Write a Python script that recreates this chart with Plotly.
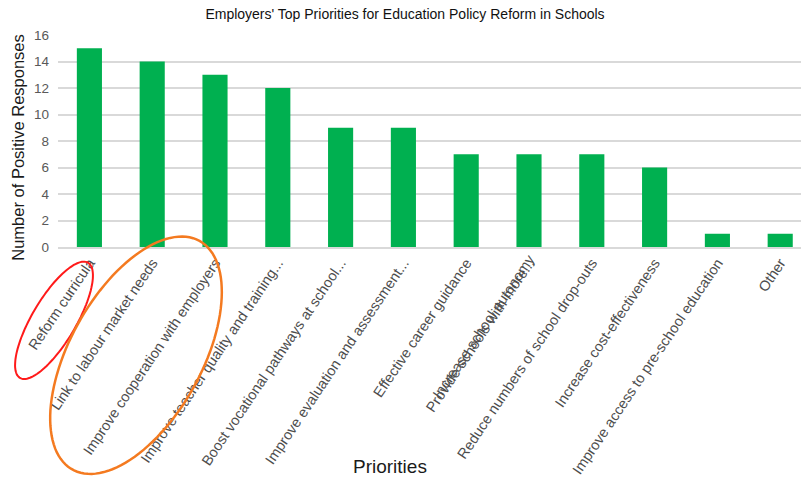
import numpy as np
import plotly.graph_objects as go

# Survey results: employers' top priorities for school education policy reform
priorities = [
    "Reform curricula",
    "Link to labour market needs",
    "Improve cooperation with employers",
    "Improve teacher quality and training...",
    "Boost vocational pathways at school...",
    "Improve evaluation and assessment...",
    "Effective career guidance",
    "Provide schools with more...",
    "Reduce numbers of school drop-outs",
    "Increase cost-effectiveness",
    "Improve access to pre-school education",
    "Other",
]
responses = [15, 14, 13, 12, 9, 9, 7, 7, 7, 6, 1, 1]
# second label printed over the same category slot
overlap_index = 7
overlap_label = "Increase school autonomy"
y_ticks = [0, 2, 4, 6, 8, 10, 12, 14, 16]

W, H = 801, 483
L, R, T, B = 58, 0, 35, 235.5
plot_w = W - L - R
plot_h = H - T - B
cat_px = 62.8
x_pos = list(range(len(priorities)))
x_range = [-0.5, -0.5 + plot_w / cat_px]

FONT = "Liberation Sans, Arial, sans-serif"
GREEN = "#00B050"
GRID = "#d9d9d9"
TICK_FONT = dict(family=FONT, size=14.5, color="#4d4d4d")

fig = go.Figure()
fig.add_trace(go.Bar(
    x=x_pos, y=responses, marker=dict(color=GREEN, line=dict(width=0)),
    width=0.4, hoverinfo="x+y", showlegend=False,
))
# invisible trace that anchors the overlaid label axis
fig.add_trace(go.Scatter(x=[x_pos[overlap_index]], y=[0], xaxis="x2", mode="markers",
                         marker=dict(opacity=0), showlegend=False, hoverinfo="skip"))


def ellipse_path(cx, cy, a, b, deg, n=120):
    th = np.radians(deg)
    t = np.linspace(0, 2 * np.pi, n)
    px = cx + a * np.cos(t) * np.cos(th) - b * np.sin(t) * np.sin(th)
    py = cy - (a * np.cos(t) * np.sin(th) + b * np.sin(t) * np.cos(th))
    fx = (px - L) / plot_w
    fy = (T + plot_h - py) / plot_h
    pts = [f"{x:.4f},{y:.4f}" for x, y in zip(fx, fy)]
    return "M " + " L ".join(pts) + " Z"


fig.add_shape(type="path", xref="paper", yref="paper",
              path=ellipse_path(54, 321, 67, 22, 59.5),
              line=dict(color="#ff1a1a", width=2), layer="above")
fig.add_shape(type="path", xref="paper", yref="paper",
              path=ellipse_path(136, 356, 131, 66, 61),
              line=dict(color="#f47a20", width=2.5), layer="above")

fig.add_annotation(text="Number of Positive Responses", xref="paper", yref="paper",
                   x=(18 - L) / plot_w, y=(T + plot_h - 148) / plot_h,
                   xanchor="center", yanchor="middle", textangle=-90, showarrow=False,
                   font=dict(family=FONT, size=16.5, color="#1a1a1a"))
fig.add_annotation(text="Priorities", xref="paper", yref="paper",
                   x=(390 - L) / plot_w, y=(T + plot_h - 468) / plot_h,
                   xanchor="center", yanchor="middle", showarrow=False,
                   font=dict(family=FONT, size=19, color="#1a1a1a"))

fig.update_layout(
    width=W, height=H,
    margin=dict(l=L, r=R, t=T, b=B, pad=0),
    paper_bgcolor="white", plot_bgcolor="white",
    title=dict(text="Employers' Top Priorities for Education Policy Reform in Schools",
               x=405 / W, xanchor="center", y=1 - 14 / H, yanchor="middle",
               font=dict(family=FONT, size=14, color="#111")),
    xaxis=dict(range=x_range, tickmode="array", tickvals=x_pos, ticktext=priorities,
               tickangle=-56, tickfont=TICK_FONT, showgrid=False, zeroline=False,
               showline=True, linecolor=GRID, linewidth=1.5, ticks="", fixedrange=True),
    xaxis2=dict(range=x_range, overlaying="x", anchor="y", side="bottom",
                tickmode="array", tickvals=[x_pos[overlap_index]], ticktext=[overlap_label],
                tickangle=-56, tickfont=TICK_FONT, showgrid=False, zeroline=False,
                showline=False, ticks=""),
    yaxis=dict(range=[0, 16], tickmode="array", tickvals=y_ticks,
               tickfont=dict(family=FONT, size=13.5, color="#595959"),
               showgrid=True, gridcolor=GRID, gridwidth=1.5, zeroline=False,
               showline=False, ticks="", ticklabelstandoff=8),
    bargap=0.6,
)

fig.write_html("out.html")
